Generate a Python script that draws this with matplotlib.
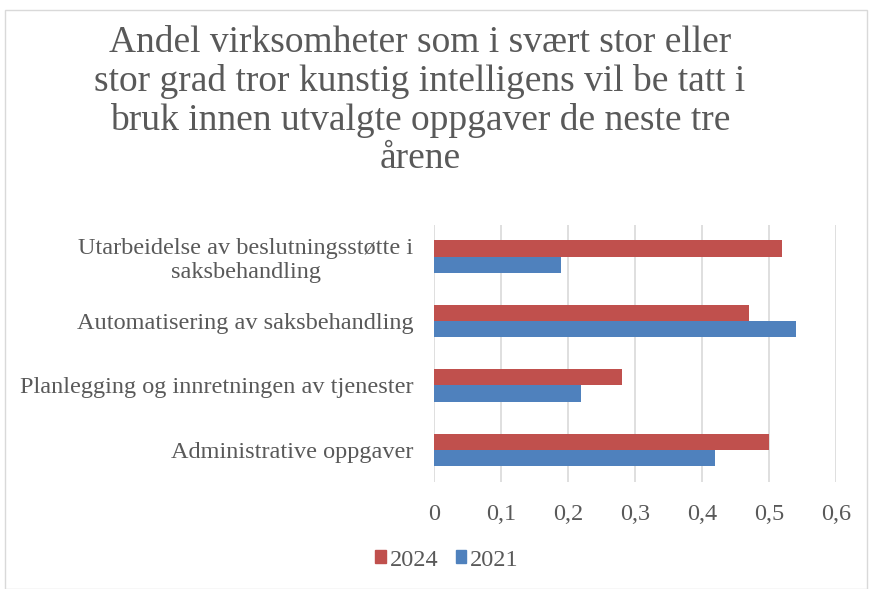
import numpy as np
import matplotlib.pyplot as plt
from matplotlib.patches import Rectangle, Patch

# data
categories = ["Utarbeidelse av beslutningsstøtte i\nsaksbehandling",
              "Automatisering av saksbehandling",
              "Planlegging og innretningen av tjenester",
              "Administrative oppgaver"]
values_2024 = [0.52, 0.47, 0.28, 0.50]
values_2021 = [0.19, 0.54, 0.22, 0.42]
xticks = [0, 0.1, 0.2, 0.3, 0.4, 0.5, 0.6]
xtick_labels = ["0", "0,1", "0,2", "0,3", "0,4", "0,5", "0,6"]

title = ("Andel virksomheter som i svært stor eller\n"
         "stor grad tror kunstig intelligens vil be tatt i\n"
         "bruk innen utvalgte oppgaver de neste tre\n"
         "årene")

red = "#c0504d"
blue = "#4f81bd"
text_col = "#595959"

plt.rcParams['font.family'] = ['Liberation Serif', 'DejaVu Serif']

fig = plt.figure(figsize=(8.69, 5.89), dpi=100)
fig.patches.append(Rectangle((5 / 869, 0), 862 / 869, 1 - 10 / 589,
                             transform=fig.transFigure, fill=False,
                             edgecolor="#d9d9d9", linewidth=1))

ax = fig.add_axes([434 / 869, 1 - 482 / 589, 402 / 869, 257.5 / 589])

y = np.arange(len(categories))[::-1]
h = 0.253
ax.barh(y + h / 2, values_2024, height=h, color=red, label="2024")
ax.barh(y - h / 2, values_2021, height=h, color=blue, label="2021")

ax.set_xlim(0, 0.6)
ax.set_ylim(-0.5, len(categories) - 0.5)
ax.set_xticks(xticks)
ax.set_xticklabels(xtick_labels, fontsize=17.5, color=text_col)
ax.set_yticks(y)
ax.set_yticklabels(categories, fontsize=17.5, color=text_col,
                   multialignment="center", linespacing=1.16)
ax.tick_params(axis="both", length=0)
ax.tick_params(axis="x", pad=15.5)
ax.tick_params(axis="y", pad=15)
ax.grid(axis="x", color="#d9d9d9", linewidth=1.2)
ax.set_axisbelow(True)
for s in ["top", "right", "bottom", "left"]:
    ax.spines[s].set_visible(False)

fig.text(420 / 869, 1 - 25 / 589, title, ha="center", va="top",
         fontsize=27, color=text_col, linespacing=1.15)

handles = [Patch(color=red), Patch(color=blue)]
fig.legend(handles, ["2024", "2021"], loc="center",
           bbox_to_anchor=(447 / 869, 1 - 560 / 589), ncol=2, frameon=False,
           fontsize=17.5, labelcolor=text_col, handlelength=0.45,
           handleheight=0.45, handletextpad=0.15, columnspacing=0.7)

fig.savefig("out.png", dpi=100)
